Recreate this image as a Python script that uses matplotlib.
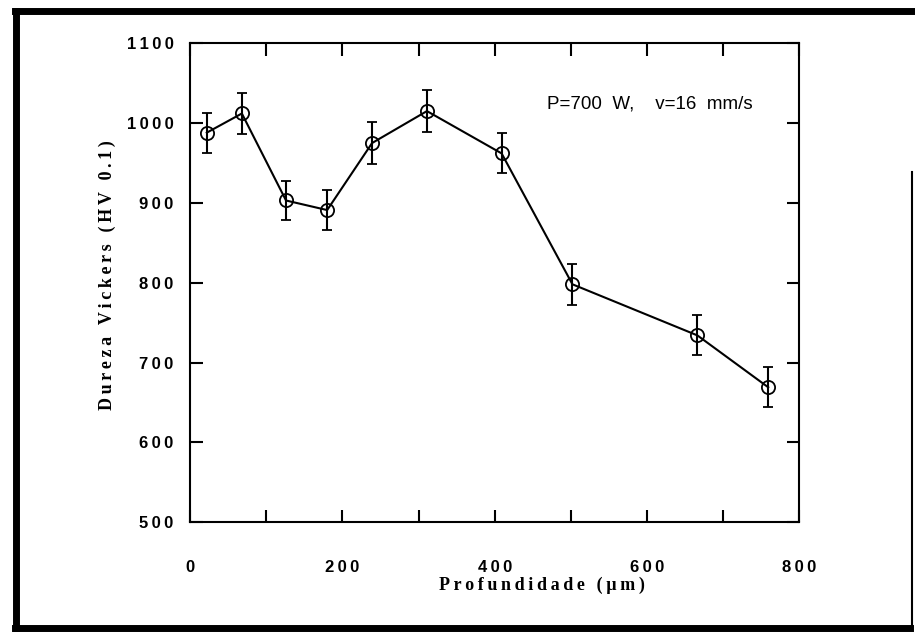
import matplotlib
matplotlib.use("Agg")
import matplotlib.pyplot as plt
from matplotlib.lines import Line2D

# data
depth = [22, 68, 126, 180, 239, 311, 409, 502, 666, 759]
hardness = [988, 1012, 903, 891, 975, 1015, 962, 798, 734, 669]
error = [25, 26, 25, 25, 26, 26, 25, 26, 25, 25]

x_ticks = [0, 100, 200, 300, 400, 500, 600, 700, 800]
x_labels = ["0", "", "200", "", "400", "", "600", "", "800"]
y_ticks = [500, 600, 700, 800, 900, 1000, 1100]
y_labels = ["500", "600", "700", "800", "900", "1000", "1100"]

THIN = "\u2009"


def spaced(s):
    # the scan uses wide letter spacing, imitate it with thin spaces
    return THIN.join(s)


fig = plt.figure(figsize=(9.15, 6.36), dpi=100)
ax = fig.add_axes([0.2077, 0.179, 0.666, 0.753])

ax.errorbar(depth, hardness, yerr=error, color="black", linewidth=1.5,
            marker="o", markersize=9.5, markerfacecolor="none",
            markeredgewidth=1.3, capsize=3.3, elinewidth=1.5, capthick=1.5)

ax.set_xlim(0, 800)
ax.set_ylim(500, 1100)
ax.set_xticks(x_ticks)
ax.set_xticklabels([spaced(t) for t in x_labels])
ax.set_yticks(y_ticks)
ax.set_yticklabels([spaced(t) for t in y_labels])

# inward ticks on all four sides, like the original plot
ax.tick_params(direction="in", length=9, width=1.5, top=True, right=True)
ax.tick_params(axis="x", pad=27)
ax.tick_params(axis="y", pad=12)
for lab in ax.get_xticklabels() + ax.get_yticklabels():
    lab.set_fontfamily(["Liberation Sans", "DejaVu Sans"])
    lab.set_fontweight("bold")
    lab.set_fontsize(12)
for sp in ax.spines.values():
    sp.set_linewidth(1.5)

ax.set_xlabel(spaced("Profundidade (\u00b5m)"),
              family=["Liberation Serif", "DejaVu Serif"],
              fontweight="bold", fontsize=13, va="center")
ax.set_ylabel(spaced("Dureza Vickers (HV 0.1)"),
              family=["Liberation Serif", "DejaVu Serif"],
              fontweight="bold", fontsize=13, va="center")
ax.xaxis.set_label_coords(0.578, -0.131)
ax.yaxis.set_label_coords(-0.136, 0.516)

ax.text(0.585, 0.864, "P=700  W,    v=16  mm/s", transform=ax.transAxes,
        family="Liberation Sans", fontsize=13.5, va="baseline")

# thick frame around the whole scanned figure
fig.add_artist(Line2D([0.018, 0.018], [0.012, 0.983], color="black",
                      linewidth=5, transform=fig.transFigure))
fig.add_artist(Line2D([0.016, 1.0], [0.983, 0.983], color="black",
                      linewidth=5, transform=fig.transFigure))
fig.add_artist(Line2D([0.016, 0.995], [0.012, 0.012], color="black",
                      linewidth=5, transform=fig.transFigure))
fig.add_artist(Line2D([0.997, 0.997], [0.015, 0.73], color="black",
                      linewidth=1.5, transform=fig.transFigure))

fig.savefig("out.png", dpi=100)
